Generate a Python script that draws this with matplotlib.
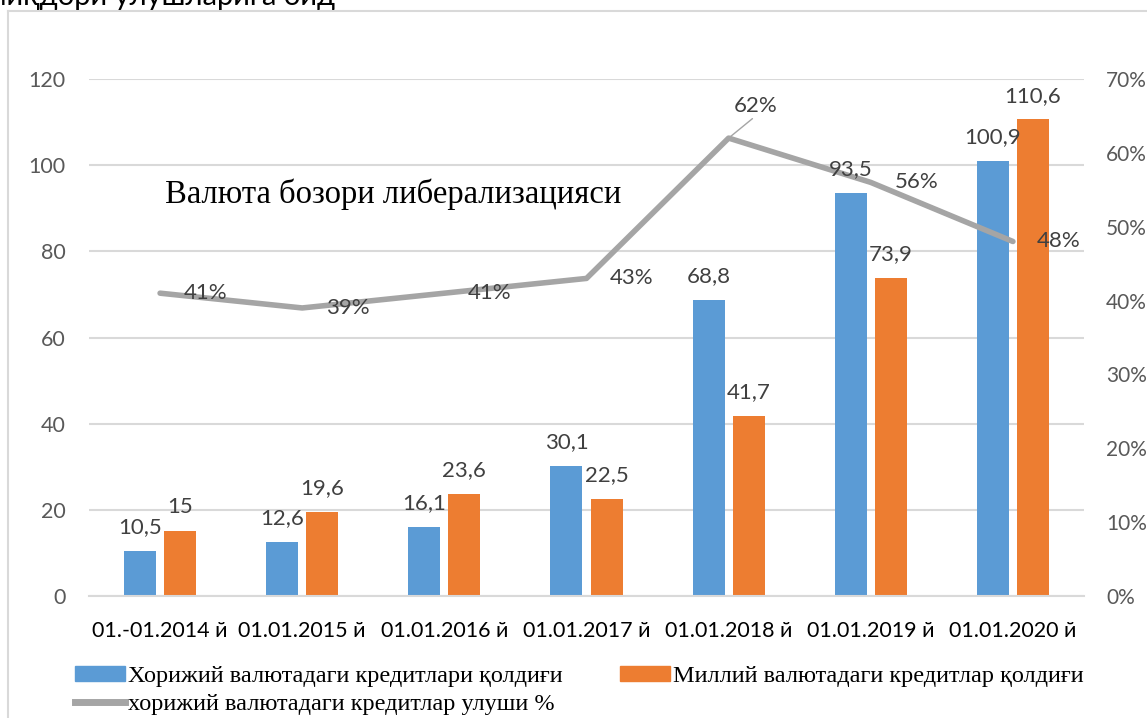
import numpy as np
import matplotlib.pyplot as plt
from matplotlib.patches import Patch
from matplotlib.lines import Line2D

categories = ["01.-01.2014 й", "01.01.2015 й", "01.01.2016 й", "01.01.2017 й",
              "01.01.2018 й", "01.01.2019 й", "01.01.2020 й"]
foreign = [10.5, 12.6, 16.1, 30.1, 68.8, 93.5, 100.9]
national = [15, 19.6, 23.6, 22.5, 41.7, 73.9, 110.6]
share = [0.41, 0.39, 0.41, 0.43, 0.62, 0.56, 0.48]

blue = "#5B9BD5"
orange = "#ED7D31"
gray = "#A5A5A5"
grid_c = "#D9D9D9"
tick_c = "#595959"
lab_c = "#404040"

W, H = 1147, 718
fig = plt.figure(figsize=(W / 100, H / 100), dpi=100)

# chart frame (left and top edges visible)
fig.add_artist(Line2D([8 / W, 8 / W], [0, 1 - 11 / H], color=grid_c, lw=1.5))
fig.add_artist(Line2D([8 / W, 1], [1 - 11 / H, 1 - 11 / H], color=grid_c, lw=1.5))

# clipped heading fragment at the very top
fig.text(-0.012, 1 + 3 / H, "миқдори улушларига оид", fontsize=21, family="Lato",
         color="#000000", va="center", ha="left")

ax = fig.add_axes([89 / W, 1 - 596 / H, (1084 - 89) / W, (596 - 79) / H])
ax2 = ax.twinx()

x = np.arange(len(categories))
bw = 0.225
off = 0.141
ax.bar(x - off, foreign, bw, color=blue, zorder=2)
ax.bar(x + off, national, bw, color=orange, zorder=2)

ax.set_xlim(-0.5, len(categories) - 0.5)
ax.set_ylim(0, 120)
ax.set_yticks(range(0, 121, 20))
ax.set_xticks(x)
ax.set_xticklabels(categories)
ax.grid(axis="y", color=grid_c, lw=1.5, zorder=0)
ax.set_axisbelow(True)
for s in ["top", "right", "left"]:
    ax.spines[s].set_visible(False)
ax.spines["bottom"].set_color(grid_c)
ax.spines["bottom"].set_linewidth(1.5)
ax.tick_params(axis="both", length=0, labelsize=15.5, labelcolor=tick_c)
ax.tick_params(axis="y", pad=17)
ax.tick_params(axis="x", pad=18, labelcolor="#000000")
for t in ax.get_xticklabels() + ax.get_yticklabels():
    t.set_family("Lato")

ax2.plot(x, share, color=gray, lw=4, solid_capstyle="round", zorder=3)
ax2.set_ylim(0, 0.70)
ax2.set_yticks(np.arange(0, 0.71, 0.1))
ax2.set_yticklabels([f"{int(round(v * 100))}%" for v in np.arange(0, 0.71, 0.1)])
for s in ax2.spines.values():
    s.set_visible(False)
ax2.tick_params(axis="y", length=0, labelsize=15, labelcolor=tick_c, pad=16)
for t in ax2.get_yticklabels():
    t.set_family("Lato")

# bar value labels
for i in range(len(categories)):
    for xv, v in [(x[i] - off, foreign[i]), (x[i] + off, national[i])]:
        ax2.annotate(f"{v:g}".replace(".", ","), (xv, v), xycoords=ax.transData,
                     xytext=(0, 10), textcoords="offset points", ha="center", va="bottom",
                     fontsize=16, family="Lato", color=lab_c, zorder=5)

# share labels
for i, v in enumerate(share):
    txt = f"{int(round(v * 100))}%"
    if i == 4:
        ax2.annotate(txt, (x[i], v), xytext=(4, 16), textcoords="offset points",
                     ha="left", va="bottom", fontsize=16, family="Lato", color=lab_c,
                     arrowprops=dict(arrowstyle="-", color=gray, lw=1, shrinkA=0, shrinkB=0,
                                     relpos=(0.55, 0.1)), zorder=5)
    else:
        ax2.annotate(txt, (x[i], v), xytext=(17, 0), textcoords="offset points",
                     ha="left", va="center", fontsize=16, family="Lato", color=lab_c, zorder=5)

fig.text(165 / W, 1 - 194 / H, "Валюта бозори либерализацияси", fontsize=23.5,
         family="Liberation Serif", color="#000000", va="center", ha="left")

handles = [Patch(color=blue, label="Хорижий валютадаги кредитлари қолдиғи"),
           Line2D([], [], color=gray, lw=5, label="хорижий валютадаги кредитлар улуши %"),
           Patch(color=orange, label="Миллий валютадаги кредитлар қолдиғи")]
fig.legend(handles=handles, ncol=2, loc="upper left", bbox_to_anchor=(75 / W, 1 - 666 / H),
           frameon=False, prop={"family": "Liberation Serif", "size": 17.5},
           handlelength=2.06, handleheight=0.55, handletextpad=0.12, columnspacing=2.35,
           labelspacing=0.3, borderpad=0, borderaxespad=0)

fig.savefig("out.png", dpi=100)
